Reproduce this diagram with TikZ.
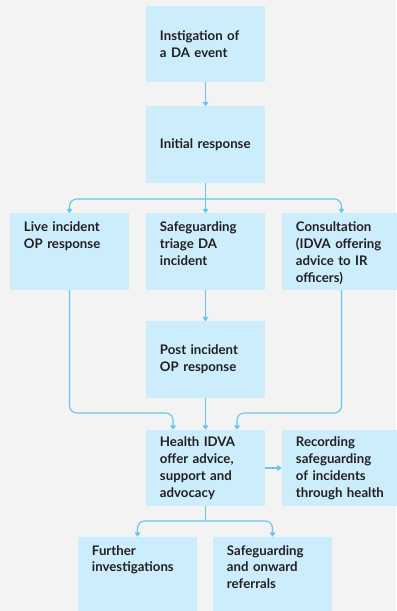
\documentclass[tikz,border=0pt]{standalone}
\usepackage{fontspec}
\setmainfont{Lato}
\usetikzlibrary{positioning, calc, arrows.meta}
\definecolor{sfondo}{HTML}{F3F3F3}
\definecolor{boxcol}{HTML}{CCEDFC}
\definecolor{linkcol}{HTML}{66C4F1}
\definecolor{testo}{HTML}{231F20}
\tikzset{
  flowbox/.style={fill=boxcol, text=testo, font=\fontsize{9.4}{12}\selectfont\bfseries,
    text width=2.275cm, inner xsep=0.35cm, inner ysep=0pt,
    minimum width=2.975cm, minimum height=1.9cm, align=left},
  topbox/.style={flowbox, text height=0.45cm, text depth=1.45cm},
  link/.style={draw=linkcol, line width=0.8pt, -{Triangle[width=4pt,length=3pt]}},
}

\begin{document}
\begin{tikzpicture}[x=0.025cm, y=-0.025cm]
        %sfondo
        \fill[sfondo] (0,0) rectangle (396,611);
        \useasboundingbox (0,0) rectangle (396,611);

        %prima colonna di box
        \node[flowbox] (instig) at (205.5,44) {Instigation of\\a DA event};
        \node[flowbox] (initial) at (205.5,144.5) {Initial response};

        %tre rami
        \node[topbox] (live) at (69.5,251.5) {Live incident\\OP response};
        \node[topbox] (triage) at (205.5,251.5) {Safeguarding\\triage DA\\incident};
        \node[topbox] (consult) at (341.5,251.5) {Consultation\\(IDVA offering\\advice to IR\\officers)};

        \node[flowbox] (post) at (205.5,359.5) {Post incident\\OP response};

        %health IDVA e registrazione
        \node[flowbox] (health) at (205.5,468) {Health IDVA\\offer advice,\\support and\\advocacy};
        \node[flowbox] (record) at (341.5,468) {Recording\\safeguarding\\of incidents\\through health};

        %ultima riga
        \node[topbox] (further) at (137.5,575) {Further\\investigations};
        \node[topbox] (onward) at (272.5,575) {Safeguarding\\and onward\\referrals};

        %punti di snodo
        \coordinate (split) at (205.5,199);
        \coordinate (joinL) at (173,413);
        \coordinate (joinR) at (237,413);
        \coordinate (bsplit) at (205.5,521);

        %frecce
        \draw[link] (instig) -- (initial);
        \draw[draw=linkcol, line width=0.8pt] (initial.south) -- (split);
        \draw[link, rounded corners=0.18cm] (split) -| (live.north);
        \draw[link] (split) -- (triage.north);
        \draw[link, rounded corners=0.18cm] (split) -| (consult.north);
        %----
        \draw[link] (triage) -- (post);
        \draw[link] (post) -- (health);
        \draw[link, rounded corners=0.18cm] (live.south) |- (joinL) -- (joinL |- health.north);
        \draw[link, rounded corners=0.18cm] (consult.south) |- (joinR) -- (joinR |- health.north);
        %----
        \draw[link] (health) -- (record);
        \draw[draw=linkcol, line width=0.8pt] (health.south) -- (bsplit);
        \draw[link, rounded corners=0.18cm] (bsplit) -| (further.north);
        \draw[link, rounded corners=0.18cm] (bsplit) -| (onward.north);
\end{tikzpicture}
\end{document}
